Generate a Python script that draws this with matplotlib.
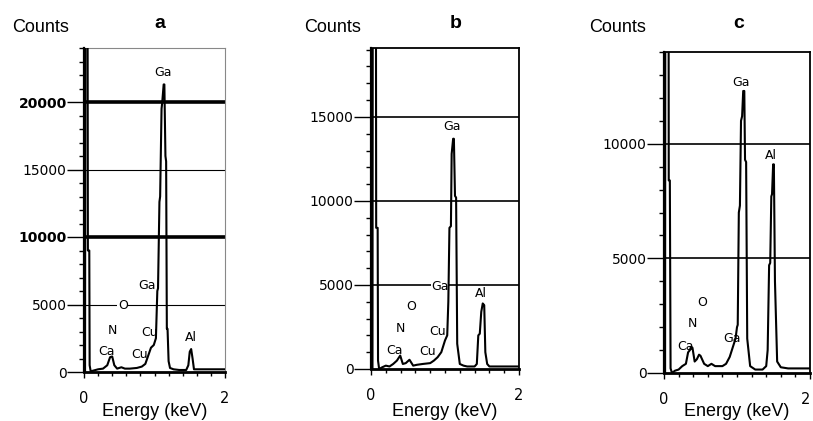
import matplotlib
matplotlib.use("Agg")
import matplotlib.pyplot as plt
from matplotlib.ticker import MultipleLocator, FixedLocator

plt.rcParams['font.family'] = ['Liberation Sans', 'DejaVu Sans']

# ---------------- data ----------------
a_energy = [0.0, 0.015, 0.02, 0.05, 0.055, 0.075, 0.08, 0.095, 0.13, 0.2, 0.27, 0.33, 0.37, 0.40,
            0.43, 0.47, 0.53, 0.58, 0.65, 0.75, 0.82, 0.87, 0.91, 0.95, 0.99, 1.02, 1.04, 1.05,
            1.07, 1.08, 1.10, 1.11, 1.13, 1.14, 1.155, 1.165, 1.175, 1.185, 1.2, 1.22, 1.27,
            1.35, 1.45, 1.48, 1.50, 1.52, 1.54, 1.56, 1.6, 1.7, 2.0]
a_counts = [0, 0, 30000, 30000, 9000, 9000, 500, 50, 100, 200, 250, 500, 1100, 1150,
            500, 250, 350, 250, 250, 300, 400, 600, 1200, 1800, 2000, 2500, 6000, 6200,
            12600, 13000, 19500, 20000, 21300, 21300, 16000, 15600, 3200, 3200, 800, 300, 200,
            150, 150, 500, 1500, 1700, 1000, 200, 200, 200, 200]

b_energy = [0.0, 0.02, 0.025, 0.065, 0.07, 0.09, 0.095, 0.11, 0.15, 0.2, 0.25, 0.3, 0.35, 0.395,
            0.43, 0.47, 0.52, 0.57, 0.62, 0.7, 0.8, 0.85, 0.9, 0.95, 1.0, 1.03, 1.045, 1.06,
            1.08, 1.09, 1.11, 1.12, 1.135, 1.15, 1.165, 1.2, 1.25, 1.3, 1.4, 1.43, 1.45, 1.47,
            1.49, 1.51, 1.53, 1.545, 1.57, 1.6, 1.7, 2.0]
b_counts = [0, 0, 30000, 30000, 8400, 8400, 500, 0, 100, 200, 150, 300, 500, 800,
            300, 350, 550, 200, 250, 300, 350, 500, 700, 1000, 1700, 2000, 4000, 8400,
            8500, 12800, 13700, 13700, 10300, 10200, 1500, 300, 200, 150, 150, 300, 2000, 2100,
            3400, 3900, 3800, 1000, 300, 150, 150, 150]

c_energy = [0.0, 0.015, 0.02, 0.06, 0.065, 0.08, 0.09, 0.11, 0.15, 0.2, 0.25, 0.3, 0.33, 0.355,
            0.37, 0.39, 0.42, 0.45, 0.48, 0.5, 0.55, 0.6, 0.65, 0.7, 0.8, 0.85, 0.9, 0.95, 0.98,
            1.0, 1.01, 1.025, 1.04, 1.055, 1.07, 1.085, 1.1, 1.11, 1.125, 1.14, 1.18, 1.25,
            1.35, 1.4, 1.42, 1.44, 1.455, 1.47, 1.48, 1.495, 1.505, 1.52, 1.55, 1.6, 1.7, 2.0]
c_counts = [0, 0, 30000, 30000, 8400, 8400, 200, 0, 100, 150, 300, 400, 900, 1000,
            1150, 1100, 500, 600, 800, 750, 400, 300, 400, 300, 300, 400, 700, 1200, 1500,
            2000, 2100, 7000, 7300, 11000, 11200, 12300, 12300, 9300, 9200, 1500, 300, 150,
            150, 300, 1000, 4700, 4800, 7700, 7800, 9100, 9100, 4000, 500, 250, 200, 200]

panel_titles = ["a", "b", "c"]
a_yticks = [0, 5000, 10000, 15000, 20000]
b_yticks = [0, 5000, 10000, 15000]
c_yticks = [0, 5000, 10000]
x_ticks = [0, 2]

a_labels = [("Ga", 1.125, 22200), ("Ga", 0.89, 6400), ("O", 0.55, 4950), ("N", 0.40, 3050),
            ("Cu", 0.93, 2900), ("Ca", 0.32, 1500), ("Cu", 0.785, 1260), ("Al", 1.51, 2550)]
b_labels = [("Ga", 1.10, 14400), ("Ga", 0.935, 4900), ("Al", 1.48, 4500), ("O", 0.54, 3700),
            ("N", 0.395, 2420), ("Cu", 0.90, 2220), ("Ca", 0.315, 1130), ("Cu", 0.77, 1070)]
c_labels = [("Ga", 1.06, 12650), ("Al", 1.47, 9480), ("O", 0.52, 3060), ("N", 0.385, 2160),
            ("Ca", 0.295, 1170), ("Ga", 0.93, 1500)]

# ---------------- layout ----------------
W, H = 813, 421
fig = plt.figure(figsize=(W / 100, H / 100), dpi=100)

def rect(l, r, t, b):
    return [l / W, 1 - b / H, (r - l) / W, (b - t) / H]

panels = [
    dict(rect=rect(84, 225, 48, 372), energy=a_energy, counts=a_counts, ymax=24000,
         yticks=a_yticks, labels=a_labels, frame='#888888', frame_lw=0.8,
         grid={20000: 2.6, 10000: 2.6, 5000: 0.8, 15000: 0.8}, bold={20000, 10000},
         title_x=160, counts_x=12, last_tick_ha='center'),
    dict(rect=rect(371, 519, 48, 369), energy=b_energy, counts=b_counts, ymax=19100,
         yticks=b_yticks, labels=b_labels, frame='black', frame_lw=1.3,
         grid={5000: 1.2, 10000: 1.2, 15000: 1.2}, bold=set(),
         title_x=456, counts_x=304, last_tick_ha='center'),
    dict(rect=rect(664, 810, 52, 373), energy=c_energy, counts=c_counts, ymax=14000,
         yticks=c_yticks, labels=c_labels, frame='black', frame_lw=1.3,
         grid={5000: 1.2, 10000: 1.2}, bold=set(),
         title_x=739, counts_x=589, last_tick_ha='right'),
]

for title, p in zip(panel_titles, panels):
    ax = fig.add_axes(p['rect'])
    ax.set_xlim(0, 2)
    ax.set_ylim(0, p['ymax'])

    for yv, lw in p['grid'].items():
        ax.axhline(yv, color='black', lw=lw, zorder=1)

    for txt, x, y in p['labels']:
        ax.text(x, y, txt, ha='center', va='center', fontsize=9, zorder=2,
                family=['DejaVu Sans'],
                bbox=dict(facecolor='white', edgecolor='none', pad=0.3))

    ax.plot(p['energy'], p['counts'], color='black', lw=1.5, zorder=3, clip_on=True)

    for side in ['top', 'right']:
        ax.spines[side].set_color(p['frame'])
        ax.spines[side].set_linewidth(p['frame_lw'])
    ax.spines['left'].set_linewidth(1.6)
    ax.spines['bottom'].set_linewidth(2.0)
    ax.spines['left'].set_zorder(4)
    ax.spines['bottom'].set_zorder(4)

    ax.yaxis.set_major_locator(FixedLocator(p['yticks']))
    ax.yaxis.set_minor_locator(MultipleLocator(1000))
    ax.xaxis.set_major_locator(FixedLocator(x_ticks))
    ax.xaxis.set_minor_locator(MultipleLocator(0.2))
    ax.tick_params(axis='y', which='major', length=12, width=1.0, labelsize=10, pad=0.5)
    ax.tick_params(axis='y', which='minor', length=3.5, width=1.0)
    ax.tick_params(axis='x', which='major', length=4, width=1.0, labelsize=10.5, pad=10)
    ax.tick_params(axis='x', which='minor', length=3, width=1.0)
    ax.set_yticklabels([str(v) for v in p['yticks']])
    for lab, v in zip(ax.get_yticklabels(), p['yticks']):
        lab.set_family(['DejaVu Sans'])
        if v in p['bold']:
            lab.set_fontweight('bold')
    xlabs = ax.get_xticklabels()
    for lab in xlabs:
        lab.set_family(['DejaVu Sans'])
    xlabs[-1].set_horizontalalignment(p['last_tick_ha'])

    # x-axis title placed at a common height for all panels
    l, b, w, h = p['rect']
    fig.text(l + w / 2, 1 - 416 / H, "Energy (keV)", fontsize=13, ha='center', va='baseline')

    fig.text(p['counts_x'] / W, 1 - 27 / H, "Counts", fontsize=13, ha='left', va='center')
    fig.text(p['title_x'] / W, 1 - 23 / H, title, fontsize=14, fontweight='bold',
             ha='center', va='center')

fig.savefig("out.png", dpi=100)
